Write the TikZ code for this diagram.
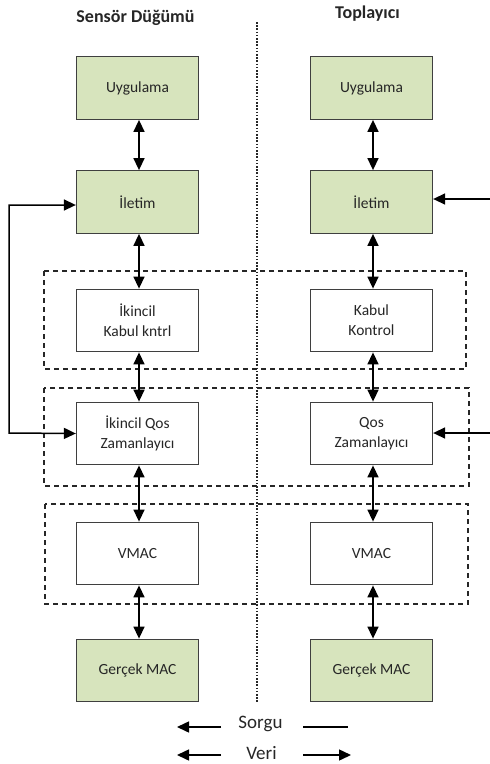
\documentclass[tikz,border=0pt]{standalone}
\usepackage{fontspec}
\setmainfont{Carlito}
\usetikzlibrary{arrows.meta}
\definecolor{boxgreen}{HTML}{D7E4BD}
\definecolor{boxline}{HTML}{3F3F3F}
\definecolor{txt}{HTML}{262626}
\tikzset{
  layer/.style={draw=boxline, line width=1.3pt, minimum width=122pt, minimum height=62.5pt,
    inner sep=0pt, align=center, text=txt, font=\fontsize{15.5}{20}\selectfont},
  greenlayer/.style={layer, fill=boxgreen},
  whitelayer/.style={layer, fill=white},
  conn/.style={line width=1.5pt, black, {Triangle[length=12pt,width=11pt]}-{Triangle[length=12pt,width=11pt]}},
  oneway/.style={line width=1.5pt, black, -{Triangle[length=12pt,width=11pt]}},
  grp/.style={line width=1.3pt, black!85, dash pattern=on 5pt off 4pt},
  divider/.style={line width=2.2pt, black!85, dash pattern=on 1.6pt off 1.6pt},
  title/.style={font=\fontsize{18}{22}\selectfont\bfseries, text=txt},
  legendtxt/.style={font=\fontsize{19}{22}\selectfont, text=txt}
}
\begin{document}
\begin{tikzpicture}[x=1pt,y=-1pt]
\useasboundingbox (0,0) rectangle (490,764);
% group boxes
\draw[grp] (44,271) rectangle (466,369);
\draw[grp] (44,388) rectangle (469,486);
\draw[grp] (45,504) rectangle (468,604);
% divider
\draw[divider] (257,22) -- (257,703);
% titles
\node[title] (tl) at (135.5,18) {Sensör Düğümü};
\node[title] (tr) at (367.5,14) {Toplayıcı};
% left column
\node[greenlayer] (lu) at (137.5,88) {Uygulama};
\node[greenlayer] (li) at (137.5,202) {İletim};
\node[whitelayer] (lk) at (137.5,320.5) {İkincil\\Kabul kntrl};
\node[whitelayer] (lq) at (137.5,433.5) {İkincil Qos\\Zamanlayıcı};
\node[whitelayer] (lv) at (137.5,553.5) {VMAC};
\node[greenlayer] (lg) at (137.5,670.5) {Gerçek MAC};
% right column
\node[greenlayer] (ru) at (371.5,88) {Uygulama};
\node[greenlayer] (ri) at (371.5,202) {İletim};
\node[whitelayer] (rk) at (371.5,320.5) {Kabul\\Kontrol};
\node[whitelayer] (rq) at (371.5,433.5) {Qos\\Zamanlayıcı};
\node[whitelayer] (rv) at (371.5,553.5) {VMAC};
\node[greenlayer] (rg) at (371.5,670.5) {Gerçek MAC};
% vertical connectors
\foreach \a/\b in {lu/li,li/lk,lk/lq,lq/lv,lv/lg,ru/ri,ri/rk,rk/rq,rq/rv,rv/rg}
  \draw[conn] ([xshift=1.5pt]\a.south) -- ([xshift=1.5pt]\b.north);
% left feedback
\draw[conn] ([yshift=-3pt]li.west) -| (9,433) -- (lq.west);
% right inputs
\coordinate (rin1) at (491,199);
\coordinate (rin2) at (491,433);
\draw[oneway] (rin1) -- (ri.east |- rin1);
\draw[oneway] (rin2) -- (rq.east |- rin2);
% legend
\node[legendtxt] (sorgu) at (260.5,724) {Sorgu};
\node[legendtxt] (veri) at (261.5,753) {Veri};
\coordinate (s1) at (221,727); \coordinate (s0) at (177,727);
\coordinate (s2) at (303,727); \coordinate (s3) at (348,727);
\coordinate (v1) at (221,755); \coordinate (v0) at (177,755);
\coordinate (v2) at (303,755); \coordinate (v3) at (351,755);
\draw[oneway] (s1) -- (s0);
\draw[line width=1.5pt] (s2) -- (s3);
\draw[oneway] (v1) -- (v0);
\draw[oneway] (v2) -- (v3);
\end{tikzpicture}
\end{document}
